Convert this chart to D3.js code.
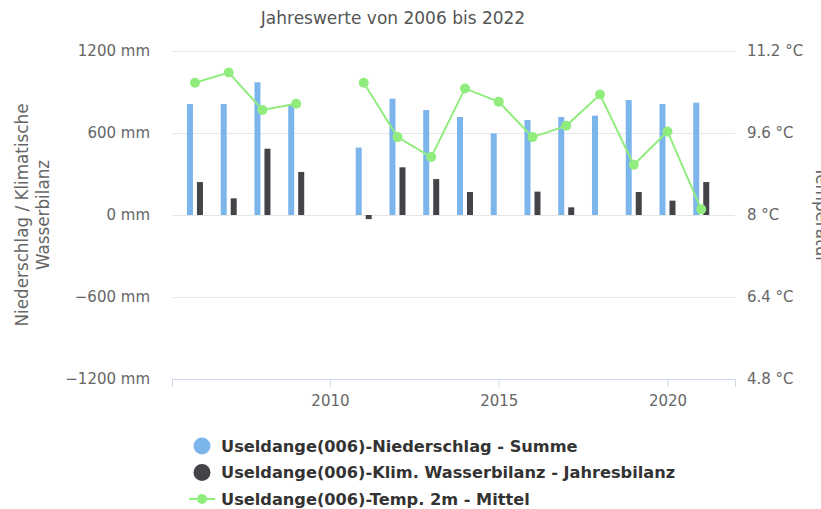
<!DOCTYPE html>
<html>
<head>
<meta charset="utf-8">
<script src="https://cdn.jsdelivr.net/npm/d3@7"></script>
<style>
  body { margin: 0; background: #fff; }
  svg { font-family: "DejaVu Sans", sans-serif; }
</style>
</head>
<body>
<svg id="chart" width="821" height="509"></svg>
<script>
// jahreswerte Useldange (006)
var years = [2006, 2007, 2008, 2009, 2010, 2011, 2012, 2013, 2014, 2015, 2016, 2017, 2018, 2019, 2020, 2021]
var niederschlag = [812, 812, 971, 808, null, 493, 851, 768, 717, 597, 695, 717, 727, 841, 812, 822]
var wasserbilanz = [241, 122, 485, 315, null, -30, 349, 263, 168, null, 171, 56, null, 168, 105, 241]
var temperatur = [10.58, 10.78, 10.05, 10.17, null, 10.58, 9.52, 9.13, 10.47, 10.21, 9.52, 9.74, 10.35, 8.98, 9.63, 8.11]
var mmTicks = [-1200, -600, 0, 600, 1200]
var tempTicks = [4.8, 6.4, 8, 9.6, 11.2]
var yearTicks = [2010, 2015, 2020]
var legendNames = ["Useldange(006)-Niederschlag - Summe",
    "Useldange(006)-Klim. Wasserbilanz - Jahresbilanz",
    "Useldange(006)-Temp. 2m - Mittel"]
var colors = ["#7cb5ec", "#434348", "#90ed7d"]

// plot box (window.top is reserved, so prefix)
var plotL = 172, plotR = 735, plotT = 51, plotB = 379

var svg = d3.select("#chart")

var x = d3.scaleLinear().domain([2005.32, 2022.0]).range([plotL, plotR])
var y = d3.scaleLinear().domain([-1200, 1200]).range([plotB, plotT])
var yT = d3.scaleLinear().domain([4.8, 11.2]).range([plotB, plotT])
// two columns per year
var inner = d3.scaleBand().domain([0, 1]).range([-8, 8]).paddingInner(0.4)

// tick label look, applied after each axis call
function labelStyle(g) {
    g.attr("font-family", "DejaVu Sans").attr("font-size", 15)
    g.selectAll("text").attr("fill", "#666").style("font-size", "15px")
}

// grid
svg.append("g")
    .attr("transform", `translate(${plotL},0)`)
    .call(d3.axisLeft(y).tickValues(mmTicks).tickSize(-(plotR - plotL)).tickFormat(""))
    .call(g => g.select(".domain").remove())
    .call(g => g.selectAll("line").attr("stroke", "#e6e6e6"))

// left axis labels (d3 default minus sign)
var mmFmt = d3.format("d")
svg.append("g")
    .attr("transform", `translate(150,0)`)
    .call(d3.axisLeft(y).tickValues(mmTicks).tickSize(0).tickPadding(0).tickFormat(d => mmFmt(d) + " mm"))
    .call(g => g.select(".domain").remove())
    .call(labelStyle)

// right axis labels
svg.append("g")
    .attr("transform", `translate(747,0)`)
    .call(d3.axisRight(yT).tickValues(tempTicks).tickSize(0).tickPadding(0).tickFormat(d => d + " °C"))
    .call(g => g.select(".domain").remove())
    .call(labelStyle)

// x axis
svg.append("g")
    .attr("transform", `translate(0,${plotB})`)
    .call(d3.axisBottom(x).tickValues(yearTicks).tickSize(8).tickPadding(8).tickFormat(d3.format("d")))
    .call(g => g.select(".domain").attr("stroke", "#ccd6eb"))
    .call(g => g.selectAll("line").attr("stroke", "#ccd6eb"))
    .call(labelStyle)

// columns
var series = [niederschlag, wasserbilanz]
series.forEach((vals, i) => {
    svg.append("g").selectAll("rect")
        .data(years.map((yr, j) => ({ yr: yr, v: vals[j] })).filter(d => d.v != null))
        .join("rect")
        .attr("x", d => x(d.yr) + inner(i))
        .attr("width", inner.bandwidth())
        .attr("y", d => y(Math.max(0, d.v)))
        .attr("height", d => Math.abs(y(d.v) - y(0)))
        .attr("fill", colors[i])
})

// temperature line
var tempData = years.map((yr, j) => ({ yr: yr, v: temperatur[j] }))
var line = d3.line()
    .defined(d => d.v != null)
    .x(d => x(d.yr))
    .y(d => yT(d.v))
svg.append("path")
    .datum(tempData)
    .attr("d", line)
    .attr("fill", "none")
    .attr("stroke", colors[2])
    .attr("stroke-width", 2)
svg.append("g").selectAll("circle")
    .data(tempData.filter(d => d.v != null))
    .join("circle")
    .attr("cx", d => x(d.yr))
    .attr("cy", d => yT(d.v))
    .attr("r", 5)
    .attr("fill", colors[2])

// title
svg.append("text")
    .attr("x", 393).attr("y", 24)
    .attr("text-anchor", "middle")
    .attr("fill", "#555")
    .style("font-size", "17px")
    .text("Jahreswerte von 2006 bis 2022")

// axis titles
var yTitle = svg.append("text")
    .attr("transform", "translate(28,215) rotate(-90)")
    .attr("text-anchor", "middle")
    .attr("fill", "#666")
    .style("font-size", "16.8px")
yTitle.append("tspan").attr("x", 0).attr("dy", 0).text("Niederschlag / Klimatische")
yTitle.append("tspan").attr("x", 0).attr("dy", 21).text("Wasserbilanz")

svg.append("text")
    .attr("transform", "translate(816,215) rotate(90)")
    .attr("text-anchor", "middle")
    .attr("fill", "#666")
    .style("font-size", "16.8px")
    .text("Temperatur")

// legend
var legend = svg.append("g").attr("transform", "translate(202,446)")
legendNames.forEach((name, i) => {
    var g = legend.append("g").attr("transform", `translate(0,${i * 26.5})`)
    if (i < 2) {
        g.append("circle").attr("r", 8.5).attr("fill", colors[i])
    } else {
        g.append("line").attr("x1", -13).attr("x2", 13)
            .attr("stroke", colors[i]).attr("stroke-width", 2)
        g.append("circle").attr("r", 5).attr("fill", colors[i])
    }
    g.append("text")
        .attr("x", 19).attr("dy", "0.35em")
        .attr("fill", "#333")
        .style("font-size", "16.2px")
        .style("font-weight", "bold")
        .text(name)
})
</script>
</body>
</html>
